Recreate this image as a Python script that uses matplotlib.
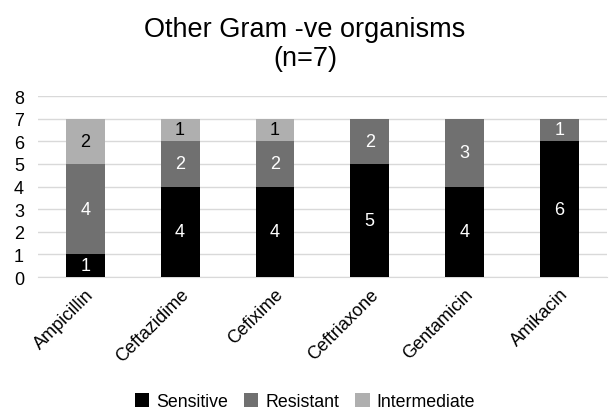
import numpy as np
import matplotlib
matplotlib.use('Agg')
import matplotlib.pyplot as plt

plt.rcParams['font.family'] = ['Liberation Sans', 'DejaVu Sans']

# Data
drugs = ['Ampicillin', 'Ceftazidime', 'Cefixime', 'Ceftriaxone', 'Gentamicin', 'Amikacin']
sensitive = [1, 4, 4, 5, 4, 6]
resistant = [4, 2, 2, 2, 3, 1]
intermediate = [2, 1, 1, 0, 0, 0]

series = [('Sensitive', sensitive, '#000000', 'white'),
          ('Resistant', resistant, '#707070', 'white'),
          ('Intermediate', intermediate, '#afafaf', 'black')]

fig = plt.figure(figsize=(6.1, 4.14), dpi=100)
ax = fig.add_axes([0.062, 0.3285, 0.933, 0.4372])

x = np.arange(len(drugs))
bottom = np.zeros(len(drugs))
for name, vals, color, txt in series:
    vals = np.array(vals, dtype=float)
    bars = ax.bar(x, vals, 0.41, bottom=bottom, color=color, label=name, zorder=3)
    for b, v, y0 in zip(bars, vals, bottom):
        if v > 0:
            ax.text(b.get_x() + b.get_width() / 2, y0 + v / 2, f'{int(v)}',
                    ha='center', va='center', color=txt, fontsize=13, zorder=4)
    bottom += vals

ax.set_xlim(-0.5, len(drugs) - 0.5)
ax.set_ylim(0, 8)
ax.set_yticks(range(0, 9))
ax.yaxis.grid(True, color='#d9d9d9', linewidth=1, zorder=0)
for s in ['top', 'right', 'left']:
    ax.spines[s].set_visible(False)
ax.spines['bottom'].set_color('#d9d9d9')
ax.tick_params(axis='both', length=0, labelsize=13)
ax.tick_params(axis='y', pad=10)
ax.tick_params(axis='x', pad=6)
ax.set_xticks(x)
ax.set_xticklabels(drugs, rotation=45, ha='right', rotation_mode='anchor')

fig.suptitle('Other Gram -ve organisms\n(n=7)', fontsize=19.5, y=0.958, linespacing=1.15)

fig.legend(loc='center', ncol=3, frameon=False, fontsize=12.8,
           bbox_to_anchor=(0.5, 0.027), handlelength=0.8, handleheight=0.8,
           handletextpad=0.4, columnspacing=0.9)

fig.savefig('out.png', dpi=100)
